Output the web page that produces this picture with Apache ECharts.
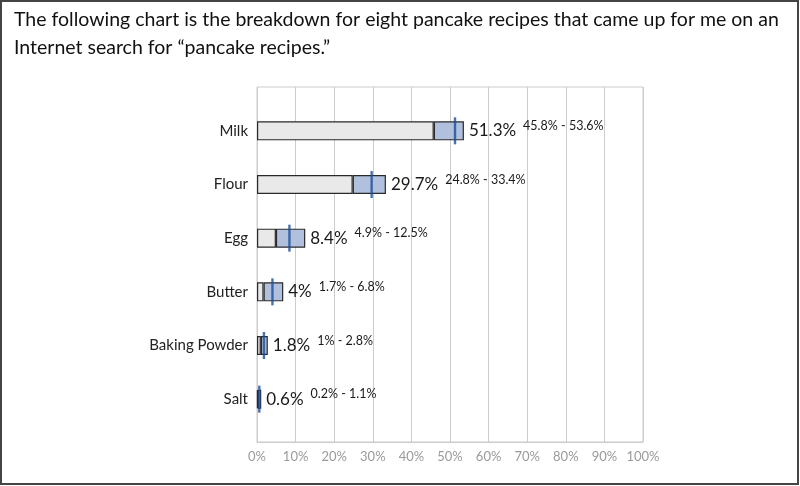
<!DOCTYPE html>
<html><head><meta charset="utf-8">
<script src="https://cdn.jsdelivr.net/npm/echarts@6/dist/echarts.min.js"></script>
<style>html,body{margin:0;padding:0;background:#fff}#c{width:800px;height:486px}</style>
</head><body><div id="c"></div>
<script>
const categories = ['Milk', 'Flour', 'Egg', 'Butter', 'Baking Powder', 'Salt'];
const minValues = [45.8, 24.8, 4.9, 1.7, 1, 0.2];
const maxValues = [53.6, 33.4, 12.5, 6.8, 2.8, 1.1];
const meanValues = [51.3, 29.7, 8.4, 4, 1.8, 0.6];
const xTicks = [0, 10, 20, 30, 40, 50, 60, 70, 80, 90, 100];
const titleText = 'The following chart is the breakdown for eight pancake recipes that came up for me on an\nInternet search for \u201cpancake recipes.\u201d';

const FONT = 'Lato';
const chart = echarts.init(document.getElementById('c'), null, {renderer: 'canvas'});
const rangeSizes = maxValues.map((v, i) => +(v - minValues[i]).toFixed(2));

chart.setOption({
  animation: false,
  textStyle: {fontFamily: FONT},
  title: {
    text: titleText, left: 14, top: 6, padding: 0,
    textStyle: {fontFamily: FONT, fontSize: 19.5, fontWeight: 'normal', color: '#111', lineHeight: 28}
  },
  graphic: [{
    type: 'rect', shape: {x: 1, y: 1, width: 797, height: 483},
    style: {fill: 'none', stroke: '#444', lineWidth: 2}, silent: true
  }],
  grid: [
    {left: 257, right: 157, top: 87, bottom: 44, show: true, borderColor: '#cccccc', borderWidth: 1, backgroundColor: 'transparent'},
    {left: 257, right: 157, top: 104, height: 322}
  ],
  xAxis: [
    {type: 'value', gridIndex: 0, min: xTicks[0], max: xTicks[xTicks.length - 1], interval: 10,
     axisLine: {show: true, lineStyle: {color: '#cccccc'}}, axisTick: {show: false},
     splitLine: {show: true, lineStyle: {color: '#cccccc', width: 1}},
     axisLabel: {formatter: '{value}%', color: '#9a9a9a', fontSize: 13, margin: 8, fontFamily: FONT}},
    {type: 'value', gridIndex: 1, min: 0, max: 100, show: false}
  ],
  yAxis: [
    {type: 'value', gridIndex: 0, show: false, min: 0, max: 1},
    {type: 'category', gridIndex: 1, data: categories, inverse: true,
     axisLine: {show: false}, axisTick: {show: false}, splitLine: {show: false},
     axisLabel: {color: '#222', fontSize: 15, margin: 9, fontFamily: FONT}}
  ],
  series: [
    {type: 'bar', name: 'min', xAxisIndex: 1, yAxisIndex: 1, stack: 'r', barWidth: 19,
     data: minValues, itemStyle: {color: '#e9e9e9', borderColor: '#2a2a2a', borderWidth: 1.2}},
    {type: 'bar', name: 'range', xAxisIndex: 1, yAxisIndex: 1, stack: 'r', barWidth: 19,
     data: rangeSizes, itemStyle: {color: '#b1c0dc', borderColor: '#2a2a2a', borderWidth: 1.2},
     label: {show: true, position: 'right', distance: 5,
       formatter: p => '{a|' + meanValues[p.dataIndex] + '%}{s|}{b|' + minValues[p.dataIndex] + '% - ' + maxValues[p.dataIndex] + '%}',
       rich: {
         a: {fontSize: 17, color: '#1a1a1a', fontFamily: FONT},
         s: {width: 7},
         b: {fontSize: 12.5, color: '#1a1a1a', fontFamily: FONT, padding: [0, 0, 10, 0]}
       }}},
    {type: 'scatter', name: 'mean', xAxisIndex: 1, yAxisIndex: 1, z: 5,
     symbol: 'rect', symbolSize: [2.4, 27],
     itemStyle: {color: '#1d4d9a'},
     data: meanValues.map((m, i) => [m, categories[i]])}
  ]
});
</script></body></html>
